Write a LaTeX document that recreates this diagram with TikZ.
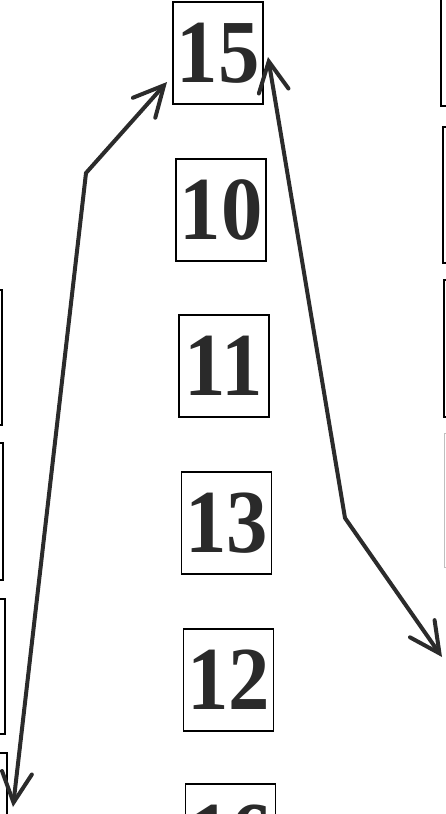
\documentclass[tikz,border=0pt]{standalone}
\usepackage{fontspec}
\setmainfont{Liberation Serif}
\usetikzlibrary{arrows.meta}
\definecolor{ink}{HTML}{2B2B2B}
\definecolor{digit}{HTML}{2A2A2A}
\tikzset{
  numbox/.style={draw=black, line width=1.4pt, minimum width=90pt, minimum height=102pt,
    inner sep=0pt, text=digit, font=\fontsize{90}{90}\selectfont\bfseries},
  sidebox/.style={draw=black, line width=1.4pt},
  faintbox/.style={draw=black!25, line width=1pt},
  bigarrow/.style={draw=ink, line width=4pt, line join=round, line cap=round,
    {Straight Barb[length=30pt,width=30pt,line cap=round]}-{Straight Barb[length=30pt,width=30pt,line cap=round]}}
}
\newcommand{\dg}[1]{\scalebox{0.92}[1]{#1}}
\begin{document}
\begin{tikzpicture}[x=1pt,y=-1pt]
\useasboundingbox (0,0) rectangle (446,814);
\clip (0,0) rectangle (446,814);
\fill[white] (0,0) rectangle (446,814);
% partial boxes at the left edge
\draw[sidebox] (-60,290) rectangle (2,425);
\draw[sidebox] (-60,443) rectangle (3,580);
\draw[sidebox] (-60,599) rectangle (5,734);
\draw[sidebox] (-60,753) rectangle (7,880);
% partial boxes at the right edge
\draw[sidebox] (441,-60) rectangle (520,106);
\draw[sidebox] (443,127) rectangle (520,263);
\draw[sidebox] (444,280) rectangle (520,417);
\draw[faintbox] (444,433) rectangle (520,567);
% centre column
\node[numbox] (n15) at (218,53) {\dg{15}};
\node[numbox] (n10) at (221,210) {\dg{10}};
\node[numbox] (n11) at (224,366) {\dg{11}};
\node[numbox] (n13) at (226.5,523) {\dg{13}};
\node[numbox] (n12) at (228.5,680) {\dg{12}};
\node[numbox] (n16) at (230.5,835) {\dg{16}};
% connectors
\coordinate (aL) at (13,807);
\coordinate (cL) at (86,173);
\coordinate (tL) at (167,82);
\coordinate (tR) at (268,57);
\coordinate (cR) at (345,518);
\coordinate (aR) at (442,657);
\draw[bigarrow] (aL) -- (cL) -- (tL);
\draw[bigarrow] (tR) -- (cR) -- (aR);
\end{tikzpicture}
\end{document}
